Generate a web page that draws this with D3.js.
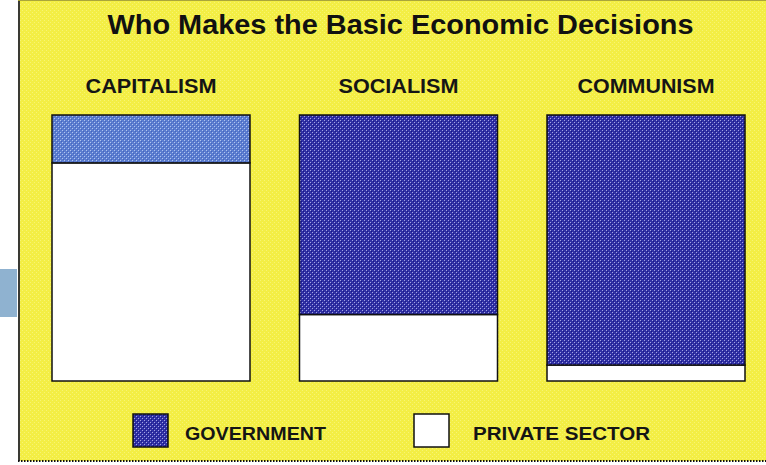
<!DOCTYPE html>
<html><head><meta charset="utf-8">
<script src="https://cdn.jsdelivr.net/npm/d3@7"></script>
<style>html,body{margin:0;padding:0;background:#fff;}svg{display:block;}</style>
</head><body>
<script>
const categories = ["CAPITALISM", "SOCIALISM", "COMMUNISM"];
const government = [18, 75, 94];
const privateSector = [82, 25, 6];
const seriesNames = ["GOVERNMENT", "PRIVATE SECTOR"];
const title = "Who Makes the Basic Economic Decisions";

const W = 766, H = 465;
const svg = d3.select("body").append("svg").attr("width", W).attr("height", H);
const defs = svg.append("defs");

function hatch(id, bg, dot, dark) {
  const p = defs.append("pattern").attr("id", id).attr("patternUnits", "userSpaceOnUse")
    .attr("width", 4).attr("height", 4);
  p.append("rect").attr("width", 4).attr("height", 4).attr("fill", bg);
  p.append("rect").attr("x", 0).attr("y", 0).attr("width", 1).attr("height", 1).attr("fill", dot);
  p.append("rect").attr("x", 2).attr("y", 2).attr("width", 1).attr("height", 1).attr("fill", dot);
  p.append("rect").attr("x", 1).attr("y", 1).attr("width", 1).attr("height", 1).attr("fill", dark);
  p.append("rect").attr("x", 3).attr("y", 3).attr("width", 1).attr("height", 1).attr("fill", dark);
}
hatch("govDark", "#3131a6", "#a4a4e4", "#1a1a84");
hatch("govLight", "#5b7dd0", "#b0c4ef", "#4665bd");
const yp = defs.append("pattern").attr("id", "yel").attr("patternUnits", "userSpaceOnUse").attr("width", 4).attr("height", 4);
yp.append("rect").attr("width", 4).attr("height", 4).attr("fill", "#f3ee44");
yp.append("rect").attr("x", 0).attr("y", 0).attr("width", 1).attr("height", 1).attr("fill", "#f7f473");
yp.append("rect").attr("x", 2).attr("y", 2).attr("width", 1).attr("height", 1).attr("fill", "#f7f473");

// style map (kept separate from data)
const govFill = { "CAPITALISM": "url(#govLight)", "SOCIALISM": "url(#govDark)", "COMMUNISM": "url(#govDark)" };

// background panel
svg.append("rect").attr("x", 0).attr("y", 269).attr("width", 17).attr("height", 48).attr("fill", "#8fb2d0");
svg.append("rect").attr("x", 18).attr("y", 0).attr("width", W - 18).attr("height", 461).attr("fill", "url(#yel)");
svg.append("line").attr("x1", 19).attr("x2", 19).attr("y1", 0).attr("y2", 461).attr("stroke", "#3a3a34").attr("stroke-width", 2);
svg.append("line").attr("x1", 18).attr("x2", W).attr("y1", 0.5).attr("y2", 0.5).attr("stroke", "#aaa63a").attr("stroke-width", 1);
svg.append("line").attr("x1", 18).attr("x2", W).attr("y1", 461).attr("y2", 461).attr("stroke", "#111").attr("stroke-width", 2).attr("stroke-dasharray", "1.5,1.5");

const font = "'Liberation Sans', Arial, sans-serif";

svg.append("text").attr("x", 400.5).attr("y", 34).attr("text-anchor", "middle")
  .attr("font-family", font).attr("font-weight", "bold").attr("font-size", 28.5).attr("fill", "#111")
  .attr("textLength", 586).attr("lengthAdjust", "spacingAndGlyphs").text(title);

const x = d3.scaleBand().domain(categories).range([52, 745]).paddingInner(0.2).paddingOuter(0);
const y = d3.scaleLinear().domain([0, 100]).range([381, 115]);

const rows = categories.map((c, i) => ({ cat: c, gov: government[i], priv: privateSector[i] }));
const stack = d3.stack().keys(["priv", "gov"])(rows);

const labelWidths = { "CAPITALISM": 131, "SOCIALISM": 120, "COMMUNISM": 137 };
svg.append("g").selectAll("text").data(categories).join("text")
  .attr("x", d => x(d) + x.bandwidth() / 2).attr("y", 93).attr("text-anchor", "middle")
  .attr("font-family", font).attr("font-weight", "bold").attr("font-size", 20).attr("fill", "#151515")
  .attr("textLength", d => labelWidths[d]).attr("lengthAdjust", "spacingAndGlyphs").text(d => d);

const g = svg.append("g");
stack.forEach(layer => {
  g.append("g").selectAll("rect").data(layer).join("rect")
    .attr("x", d => x(d.data.cat)).attr("width", x.bandwidth())
    .attr("y", d => y(d[1])).attr("height", d => y(d[0]) - y(d[1]))
    .attr("fill", d => layer.key === "gov" ? govFill[d.data.cat] : "#ffffff")
    .attr("stroke", "#111").attr("stroke-width", 1.5);
});

// legend
const legend = [
  { name: seriesNames[0], fill: "url(#govDark)", sx: 133, tx: 185, tw: 141 },
  { name: seriesNames[1], fill: "#ffffff", sx: 414, tx: 473, tw: 177 }
];
const lg = svg.append("g");
lg.selectAll("rect").data(legend).join("rect")
  .attr("x", d => d.sx).attr("y", 414).attr("width", 35).attr("height", 33)
  .attr("fill", d => d.fill).attr("stroke", "#111").attr("stroke-width", 1.5);
lg.selectAll("text").data(legend).join("text")
  .attr("x", d => d.tx).attr("y", 440)
  .attr("font-family", font).attr("font-weight", "bold").attr("font-size", 19).attr("fill", "#151515")
  .attr("textLength", d => d.tw).attr("lengthAdjust", "spacingAndGlyphs").text(d => d.name);
</script>
</body></html>
